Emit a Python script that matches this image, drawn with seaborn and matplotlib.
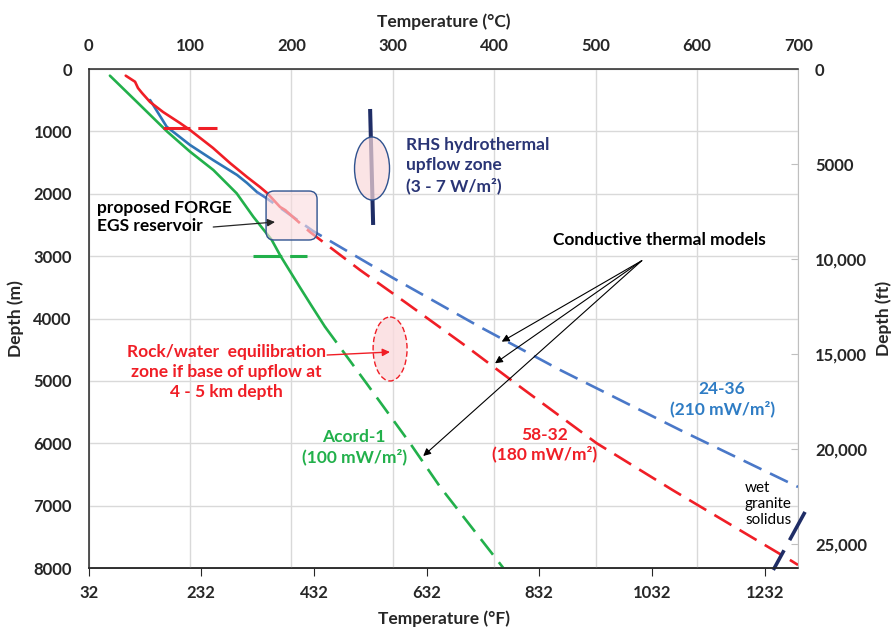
import numpy as np
import pandas as pd
import matplotlib
matplotlib.use("Agg")
import matplotlib.pyplot as plt
import seaborn as sns
from matplotlib.patches import Ellipse, FancyBboxPatch

# ---------------- data ----------------
temp_c_ticks = [0, 100, 200, 300, 400, 500, 600, 700]
temp_f_ticks = [32, 232, 432, 632, 832, 1032, 1232]
depth_m_ticks = [0, 1000, 2000, 3000, 4000, 5000, 6000, 7000, 8000]
depth_ft_ticks = [0, 5000, 10000, 15000, 20000, 25000]
depth_ft_labels = ["0", "5000", "10,000", "15,000", "20,000", "25,000"]

# Acord-1 (green)
acord_solid_T = [21, 49, 77.6, 100, 123, 146, 162.4, 180.6, 189, 208, 220, 233]
acord_solid_D = [107, 550, 1005, 1325, 1619, 1993, 2368, 2741, 2990, 3490, 3800, 4130]
acord_dash_T = [233, 274, 317, 346.5, 409]
acord_dash_D = [4130, 5038, 6000, 6696, 8000]

# 58-32 (red)
w5832_solid_T = [36.6, 45.8, 48.7, 52.7, 60.6, 73.4, 90.1, 100, 122.7, 139.4, 156.2, 169, 176, 188.8, 193.7]
w5832_solid_D = [107, 204, 305, 385, 529, 689, 866, 978, 1266, 1507, 1731, 1892, 1988, 2212, 2260]
w5832_dash_T = [193.7, 218.3, 267.6, 313.7, 372.9, 425.4, 501.1, 576.3, 691.7, 699.6]
w5832_dash_D = [2260, 2613, 3222, 3756, 4452, 5093, 6000, 6754, 7871, 7951]

# 24-36 (blue)
w2436_solid_T = [60.6, 77, 100, 122.7, 146.4, 156.2, 166]
w2436_solid_D = [497, 925, 1218, 1459, 1699, 1827, 1972]
w2436_dash_T = [166, 175.6, 221.3, 300.2, 386.0, 465.0, 583.2, 699.6]
w2436_dash_D = [1972, 2073, 2597, 3350, 4136, 4825, 5787, 6700]

# short marker bars
redbar_T = [73.4, 126.6]
redbar_D = [950, 950]
greenbar_T = [162, 215.5]
greenbar_D = [2990, 2990]

# RHS upflow bar and wet granite solidus
rhs_T = [277.6, 280.6]
rhs_D = [641, 2500]
solidus_T = [706.5, 675.2]
solidus_D = [7101, 8031]

# ---------------- style ----------------
sns.set_style("white")
plt.rcParams['font.family'] = ['Lato', 'DejaVu Sans']
plt.rcParams['font.weight'] = 'bold'
plt.rcParams['axes.labelweight'] = 'bold'

GREEN = '#22B04B'
RED = '#F01E26'
BLUE_S = '#2E75B6'
BLUE_D = '#4A78C8'
NAVY = '#1F2D66'
NAVY_T = '#2A3575'
BLUE_T = '#2E7CC4'
GRID = '#D9D9D9'

fig = plt.figure(figsize=(8.96, 6.28), dpi=100)
ax = fig.add_axes([0.0989, 0.0955, 0.7922, 0.7946])

DASH = (0, (7.5, 3.6))
LW = 1.9

def line(T, D, color, ls='-', lw=LW, **kw):
    sns.lineplot(x=T, y=D, sort=False, estimator=None, color=color,
                 linestyle=ls, lw=lw, ax=ax, **kw)

line(acord_solid_T, acord_solid_D, GREEN)
line(acord_dash_T, acord_dash_D, GREEN, DASH)
line(w2436_solid_T, w2436_solid_D, BLUE_S)
line(w2436_dash_T, w2436_dash_D, BLUE_D, DASH)
line(w5832_solid_T, w5832_solid_D, RED)
line(w5832_dash_T, w5832_dash_D, RED, DASH)
line(redbar_T, redbar_D, RED, (0, (8.8, 2.6)), lw=2.2, solid_capstyle='butt', dash_capstyle='butt')
line(greenbar_T, greenbar_D, GREEN, (0, (9.4, 2.6)), lw=2.2, solid_capstyle='butt', dash_capstyle='butt')
line(rhs_T, rhs_D, NAVY, '-', lw=2.9, solid_capstyle='butt')
line(solidus_T, solidus_D, NAVY, (0, (8.9, 3.2)), lw=2.6, clip_on=False, dash_capstyle='butt')

ax.set_xlim(0, 700)
ax.set_ylim(8000, 0)

# patches
rhs_ell = Ellipse((279.5, 1595), 34.5, 1010, facecolor=(0.98, 0.85, 0.86, 0.7),
                  edgecolor='#2F528F', lw=1.0, zorder=4)
ax.add_patch(rhs_ell)
rock_ell = Ellipse((297.3, 4488), 33.5, 1026, facecolor=(0.98, 0.86, 0.87, 0.8),
                   edgecolor=RED, lw=1.0, linestyle=(0, (4, 2)), zorder=4)
ax.add_patch(rock_ell)
box = FancyBboxPatch((175, 1956), 50.3, 785, boxstyle="round,pad=0,rounding_size=8",
                     mutation_aspect=16.26, facecolor=(0.98, 0.86, 0.87, 0.6),
                     edgecolor='#2F528F', lw=1.0, zorder=4)
ax.add_patch(box)

TICK_FS = 12
LAB_FS = 12.5

# axes formatting
ax.xaxis.tick_top()
ax.xaxis.set_label_position('top')
ax.set_xticks(temp_c_ticks)
ax.set_xticklabels([str(v) for v in temp_c_ticks])
ax.tick_params(axis='x', length=0, pad=11, labelsize=TICK_FS)
ax.set_xlabel("Temperature (°C)", fontsize=LAB_FS, labelpad=8)
ax.set_yticks(depth_m_ticks)
ax.set_yticklabels([str(v) for v in depth_m_ticks])
ax.tick_params(axis='y', direction='in', length=5, pad=12, labelsize=TICK_FS, color='#404040')
ax.set_ylabel("Depth (m)", fontsize=LAB_FS, labelpad=7)
ax.grid(True, color=GRID, lw=1.0)
ax.set_axisbelow(True)
for s in ['top', 'left', 'bottom']:
    ax.spines[s].set_color('#262626')
    ax.spines[s].set_linewidth(1.1)
ax.spines['right'].set_visible(False)

c2f = lambda c: np.asarray(c) * 9 / 5 + 32
f2c = lambda f: (np.asarray(f) - 32) * 5 / 9
m2ft = lambda m: np.asarray(m) * 3.28084
ft2m = lambda ft: np.asarray(ft) / 3.28084

sec_x = ax.secondary_xaxis('bottom', functions=(c2f, f2c))
sec_x.set_xticks(temp_f_ticks)
sec_x.set_xticklabels([str(v) for v in temp_f_ticks])
sec_x.tick_params(direction='out', length=6, pad=6, labelsize=TICK_FS, color='#262626')
sec_x.spines['bottom'].set_color('#262626')
sec_x.spines['bottom'].set_linewidth(1.1)
sec_x.set_xlabel("Temperature (°F)", fontsize=LAB_FS, labelpad=7)

sec_y = ax.secondary_yaxis('right', functions=(m2ft, ft2m))
sec_y.set_yticks(depth_ft_ticks)
sec_y.set_yticklabels(depth_ft_labels)
sec_y.tick_params(direction='in', length=5, pad=12, labelsize=TICK_FS, color='#BFBFBF')
sec_y.spines['right'].set_color('#BFBFBF')
sec_y.set_ylabel("Depth (ft)", fontsize=LAB_FS, labelpad=6)

# texts
FS = 12.5
ax.text(8.3, 2372, "proposed FORGE\nEGS reservoir", ha='left', va='center',
        fontsize=FS, color='black', linespacing=1.2, zorder=6)
ax.text(313, 1547, "RHS hydrothermal\nupflow zone\n(3 - 7 W/m²)", ha='left', va='center',
        fontsize=FS, color=NAVY_T, linespacing=1.3, zorder=6)
ax.text(135.7, 4857, "Rock/water  equilibration\nzone if base of upflow at\n4 - 5 km depth",
        ha='center', va='center', fontsize=FS, color=RED, linespacing=1.3, zorder=6)
ax.text(261.8, 6059, "Acord-1\n(100 mW/m²)", ha='center', va='center', fontsize=FS,
        color=GREEN, linespacing=1.3, zorder=6)
ax.text(450, 6019, "58-32\n(180 mW/m²)", ha='center', va='center', fontsize=FS,
        color=RED, linespacing=1.2, zorder=6)
ax.text(624.7, 5290, "24-36\n(210 mW/m²)", ha='center', va='center', fontsize=FS,
        color=BLUE_T, linespacing=1.3, zorder=6)
ax.text(458, 2741, "Conductive thermal models", ha='left', va='center', fontsize=FS,
        color='black', zorder=6)
ax.text(647.3, 6973, "wet\ngranite\nsolidus", ha='left', va='center', fontsize=11,
        fontweight='normal', color='black', linespacing=1.2, zorder=6)

# arrows
ak = dict(arrowstyle='-|>', color='#262626', lw=0.9, mutation_scale=11, shrinkA=0, shrinkB=0)
ax.annotate("", xy=(183.8, 2453), xytext=(122.9, 2533), arrowprops=ak, zorder=6)
for tip in [(407.4, 4371), (400.8, 4718), (330, 6204)]:
    ax.annotate("", xy=tip, xytext=(545.5, 3073),
                arrowprops=dict(ak, color='black', lw=0.8), zorder=6)
ax.annotate("", xy=(297.2, 4537), xytext=(235.2, 4585),
            arrowprops=dict(ak, color=RED, lw=1.0), zorder=6)

fig.savefig("out.png", dpi=100)
